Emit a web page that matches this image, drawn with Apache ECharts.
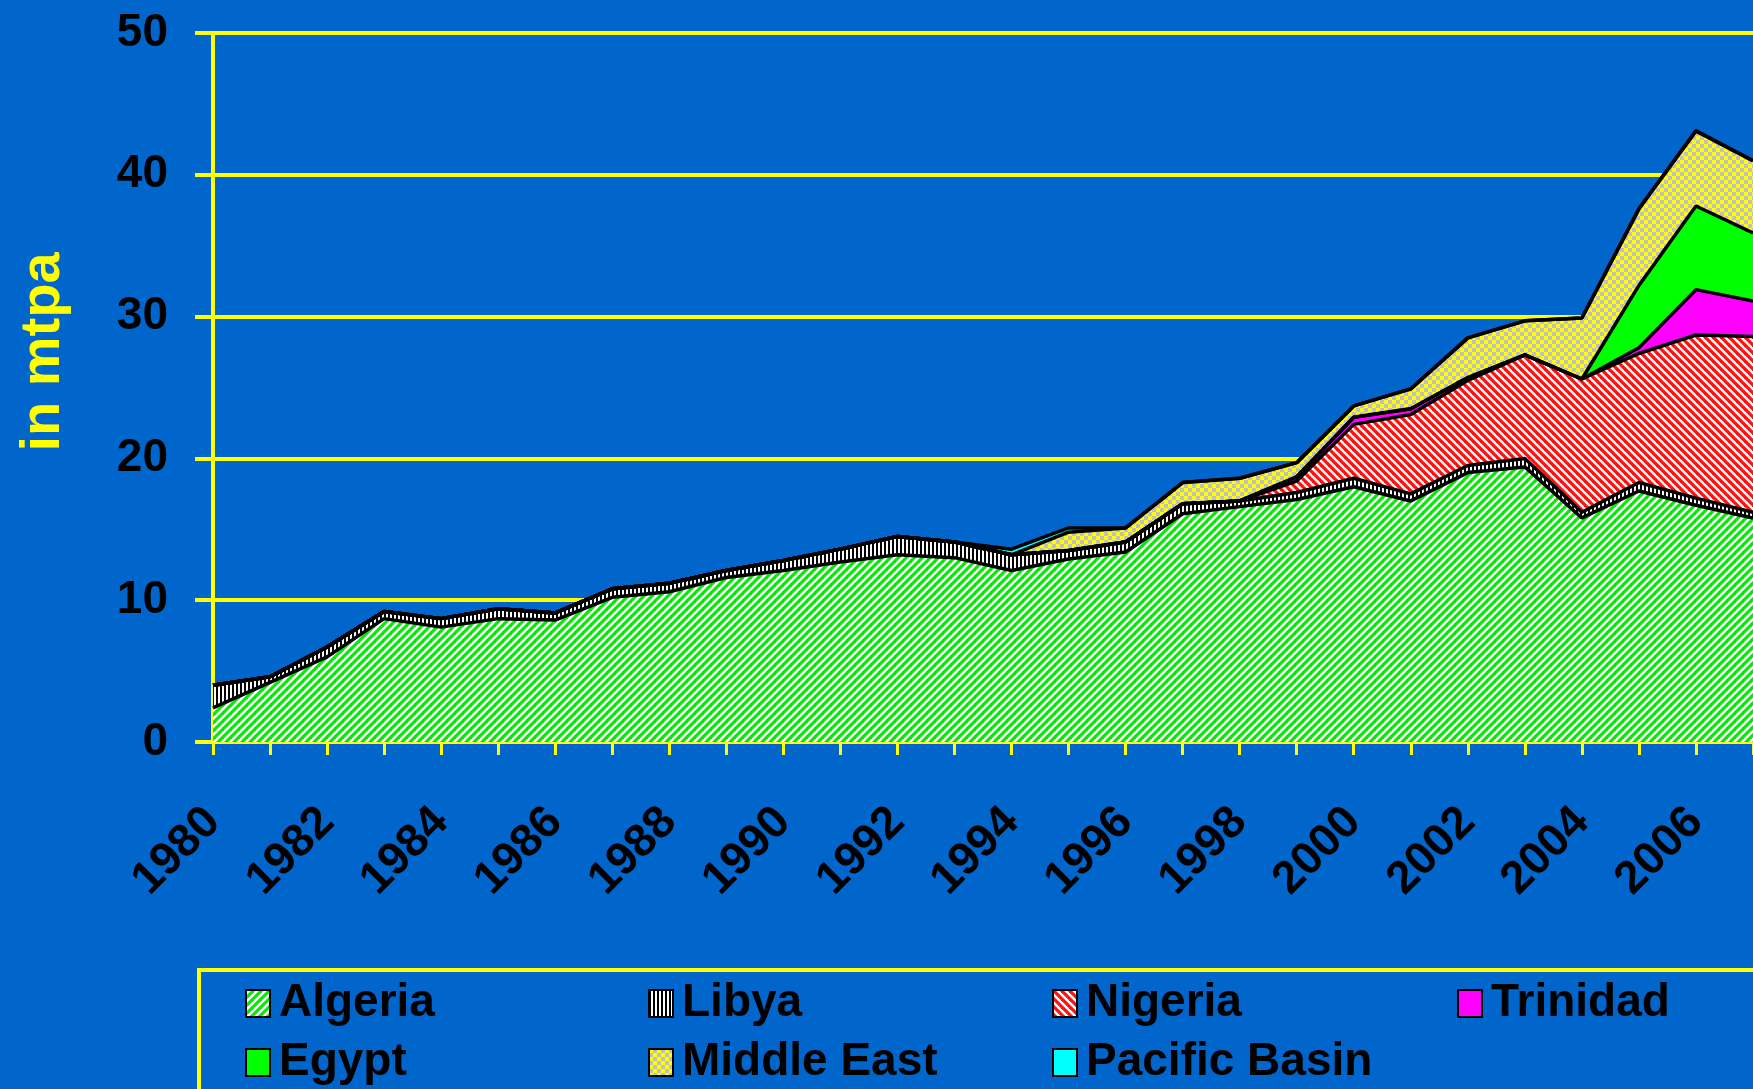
<!DOCTYPE html>
<html>
<head>
<meta charset="utf-8">
<script src="https://cdn.jsdelivr.net/npm/echarts@6/dist/echarts.min.js"></script>
<style>
html,body{margin:0;padding:0;background:#0066cc;}
#chart{width:1753px;height:1089px;}
</style>
</head>
<body>
<div id="chart"></div>
<script>
// ---- data ----
const years = ['1980','1981','1982','1983','1984','1985','1986','1987','1988','1989','1990','1991','1992','1993','1994','1995','1996','1997','1998','1999','2000','2001','2002','2003','2004','2005','2006','2007'];
const algeria     = [2.4,4.2,6.0,8.7,8.1,8.7,8.6,10.2,10.6,11.6,12.1,12.7,13.2,13.0,12.1,12.9,13.4,16.1,16.6,17.1,18.0,17.0,19.0,19.4,15.8,17.7,16.7,15.8];
const libya       = [1.6,0.4,0.7,0.5,0.6,0.7,0.5,0.6,0.6,0.5,0.7,0.9,1.3,1.1,1.1,0.6,0.7,0.7,0.4,0.5,0.6,0.5,0.5,0.6,0.4,0.6,0.5,0.4];
const nigeria     = [0,0,0,0,0,0,0,0,0,0,0,0,0,0,0,0,0,0,0,0.8,3.8,5.6,6.0,7.3,9.4,9.1,11.5,12.4];
const trinidad    = [0,0,0,0,0,0,0,0,0,0,0,0,0,0,0,0,0,0,0,0.3,0.5,0.4,0.2,0,0,0.4,3.2,2.5];
const egypt       = [0,0,0,0,0,0,0,0,0,0,0,0,0,0,0,0,0,0,0,0,0,0,0,0,0,4.4,5.9,4.8];
const middleEast  = [0,0,0,0,0,0,0,0,0,0,0,0,0,0,0,1.3,1.0,1.5,1.6,1.0,0.8,1.4,2.8,2.4,4.3,5.4,5.3,5.1];
const pacificBasin= [0,0,0,0,0,0,0,0,0,0,0,0,0,0,0.4,0.3,0,0,0,0,0,0,0,0,0,0,0,0];
const yTicks = [0,10,20,30,40,50];
const seriesNames = ['Algeria','Libya','Nigeria','Trinidad','Egypt','Middle East','Pacific Basin'];

// ---- patterns ----
function mk(w,h,draw){const c=document.createElement('canvas');c.width=w;c.height=h;const g=c.getContext('2d');draw(g,w,h);return {image:c,repeat:'repeat'};}
const greenHatch = mk(8,8,(g)=>{g.fillStyle='#ffffff';g.fillRect(0,0,8,8);g.strokeStyle='#00ee00';g.lineWidth=3.2;
  [[0,8,8,0],[-4,4,4,-4],[4,12,12,4]].forEach(l=>{g.beginPath();g.moveTo(l[0],l[1]);g.lineTo(l[2],l[3]);g.stroke();});});
const redHatch = mk(8,8,(g)=>{g.fillStyle='#ffffff';g.fillRect(0,0,8,8);g.strokeStyle='#ff1010';g.lineWidth=3.2;
  [[0,0,8,8],[-4,4,4,12],[4,-4,12,4]].forEach(l=>{g.beginPath();g.moveTo(l[0],l[1]);g.lineTo(l[2],l[3]);g.stroke();});});
const libyaStripe = mk(4,4,(g)=>{g.fillStyle='#ffffff';g.fillRect(0,0,4,4);g.fillStyle='#000000';g.fillRect(0,0,2,4);});
const checker = mk(8,8,(g)=>{g.fillStyle='#ffff00';g.fillRect(0,0,8,8);g.fillStyle='#c0c0c0';g.fillRect(4,0,4,4);g.fillRect(0,4,4,4);});
const fills = [greenHatch, libyaStripe, redHatch, '#ff00ff', '#00ff00', checker, '#00ffff'];
const solid = ['#00ee00','#888888','#ff1010','#ff00ff','#00ff00','#e0e060','#00ffff'];
const dataSets = [algeria, libya, nigeria, trinidad, egypt, middleEast, pacificBasin];

const chart = echarts.init(document.getElementById('chart'));
const FONT = '"Liberation Sans", Arial, sans-serif';

const legendPos = [[245,980],[648,980],[1052,980],[1457,980],[245,1039],[648,1039],[1052,1039]];
const legends = seriesNames.map((n,i)=>({
  left: legendPos[i][0], top: legendPos[i][1], orient:'horizontal', selectedMode:false,
  itemWidth:24, itemHeight:27, padding:0,
  textStyle:{color:'#000', fontSize:46, fontWeight:'bold', fontFamily:FONT, lineHeight:47, padding:[0,0,0,4]},
  data:[{name:n, icon:'rect', itemStyle:{color:fills[i], borderColor:'#000', borderWidth:2}}]
}));

chart.setOption({
  backgroundColor:'#0066cc',
  animation:false,
  grid:{left:213, right:0, top:33, bottom:347, containLabel:false},
  xAxis:{
    type:'category', data:years, boundaryGap:false,
    axisLine:{lineStyle:{color:'#ffff00', width:4}},
    axisTick:{show:true, interval:0, length:13, lineStyle:{color:'#ffff00', width:3}},
    axisLabel:{interval:1, rotate:45, margin:73, color:'#000', fontSize:46, fontWeight:'bold', fontFamily:FONT},
    splitLine:{show:false}
  },
  yAxis:{
    type:'value', min:yTicks[0], max:yTicks[yTicks.length-1], interval:10,
    axisLine:{show:true, lineStyle:{color:'#ffff00', width:4}},
    axisTick:{show:true, length:18, lineStyle:{color:'#ffff00', width:4}},
    axisLabel:{margin:45, color:'#000', fontSize:46, fontWeight:'bold', fontFamily:FONT},
    splitLine:{show:true, lineStyle:{color:'#ffff00', width:4}}
  },
  legend: legends,
  graphic:[
    {type:'text', x:44, y:352, rotation:Math.PI/2,
     style:{text:'in mtpa', fill:'#ffff00', font:'bold 56px '+FONT, align:'center', verticalAlign:'middle'}},
    {type:'rect', shape:{x:199, y:970, width:1700, height:300}, style:{fill:'none', stroke:'#ffff00', lineWidth:4}, z:-1}
  ],
  series: seriesNames.map((n,i)=>({
    name:n, type:'line', stack:'total', data:dataSets[i],
    symbol:'none', showSymbol:false,
    itemStyle:{color:solid[i]},
    lineStyle:{color:'#000', width:3.5},
    areaStyle:{color:fills[i], opacity:1},
    emphasis:{disabled:true}
  }))
});
</script>
</body>
</html>
